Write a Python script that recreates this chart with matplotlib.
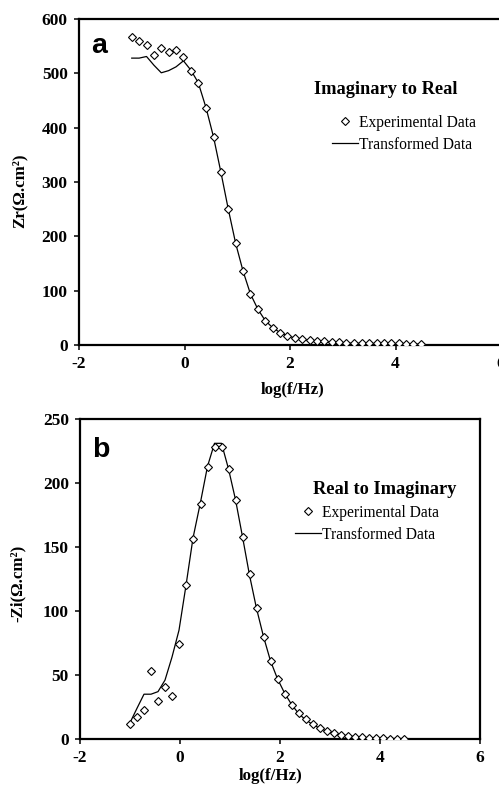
import matplotlib
matplotlib.use("Agg")
import matplotlib.pyplot as plt
from matplotlib.lines import Line2D

plt.rcParams['font.family'] = ['Liberation Serif', 'DejaVu Serif']
plt.rcParams['axes.unicode_minus'] = False

# log frequency grid (decades)
log_f = [-1.00, -0.86, -0.72, -0.58, -0.44, -0.30, -0.16, -0.02, 0.12, 0.26,
         0.41, 0.55, 0.69, 0.83, 0.97, 1.11, 1.25, 1.39, 1.53, 1.67,
         1.81, 1.95, 2.09, 2.23, 2.37, 2.51, 2.65, 2.79, 2.93, 3.07,
         3.22, 3.36, 3.50, 3.64, 3.78, 3.92, 4.06, 4.20, 4.34, 4.48]

# Panel a: real part
zr_exp = [567, 560, 552, 534, 546, 540, 543, 530, 505, 483,
          436, 383, 318, 250, 187, 136, 94, 66, 45, 32,
          23, 17, 13, 11, 9.8, 8, 6.5, 6, 5, 4.5,
          4, 4, 3.5, 3.5, 3, 3, 3, 2.5, 2.5, 2.5]
zr_trans = [528, 528, 531, 515, 501, 505, 512, 523, 506, 483,
            436, 383, 318, 250, 187, 136, 94, 66, 45, 32,
            23, 17, 13, 10, 8.5, 7, 5.5, 5, 4, 3.5,
            3, 3, 2.5, 2.5, 2, 2, 2, 1.5, 1.5, 1.5]

# Panel b: imaginary part
zi_exp = [11.7, 17.4, 22.7, 53, 29.7, 41, 33.6, 74, 120, 156,
          183.6, 212.5, 228, 228, 211, 187, 158, 129, 102, 80,
          61, 46.6, 35.4, 26.6, 20.3, 15.4, 11.5, 8.3, 6, 4.4,
          3.4, 2.4, 1.8, 1.3, 1, 0.5, 0.5, 0.3, 0.3, 0.3]
zi_trans = [12.7, 24, 35, 35, 37, 46, 64, 85, 120, 157,
            185, 213, 231, 231, 211, 187, 158, 128, 102, 80,
            61, 47, 36, 27, 20, 15, 11.5, 8.5, 6.2, 4.5,
            3.3, 2.4, 1.8, 1.3, 1, 0.7, 0.5, 0.4, 0.3, 0.3]

x_ticks = [-2, 0, 2, 4, 6]
ya_ticks = [0, 100, 200, 300, 400, 500, 600]
yb_ticks = [0, 50, 100, 150, 200, 250]

fig = plt.figure(figsize=(4.99, 7.85), dpi=100)
ax_a = fig.add_axes([79/499, 1-345/785, 422/499, 326/785])
ax_b = fig.add_axes([80/499, 1-739/785, 400/499, 320/785])

TICK_FS = 12.5
LAB_FS = 12.2
LEG_FS = 11.2
TITLE_FS = 13.2


def style(ax, yticks, ylim):
    ax.set_xlim(-2, 6)
    ax.set_ylim(*ylim)
    ax.set_xticks(x_ticks)
    ax.set_yticks(yticks)
    for s in ax.spines.values():
        s.set_linewidth(1.6)
    ax.tick_params(direction='out', length=3.6, width=1.1, pad=4.5,
                   labelsize=TICK_FS)
    for lab in ax.get_xticklabels() + ax.get_yticklabels():
        lab.set_fontweight('bold')


def panel(ax, y_exp, y_trans, yticks, ylim, ylabel, letter, title,
          ylab_xy, xlab_xy, title_xy, letter_xy, leg_xy):
    ax.plot(log_f, y_trans, color='black', lw=0.9, zorder=2)
    ax.plot(log_f, y_exp, linestyle='none', marker='D', ms=3.6,
            mfc='white', mec='black', mew=0.8, zorder=3)
    style(ax, yticks, ylim)
    ax.set_ylabel(ylabel, fontsize=LAB_FS, fontweight='bold')
    ax.yaxis.set_label_coords(*ylab_xy)
    ax.set_xlabel('log(f/Hz)', fontsize=LAB_FS, fontweight='bold')
    ax.xaxis.set_label_coords(*xlab_xy)
    ax.text(letter_xy[0], letter_xy[1], letter, transform=ax.transAxes,
            family='Liberation Sans', fontweight='bold', fontsize=20.5,
            ha='left', va='baseline')
    ax.text(title_xy[0], title_xy[1], title, transform=ax.transAxes,
            fontsize=TITLE_FS, fontweight='bold', ha='left', va='center')
    handles = [Line2D([], [], linestyle='none', marker='D', ms=3.6,
                      mfc='white', mec='black', mew=0.8),
               Line2D([], [], color='black', lw=0.9)]
    ax.legend(handles, ['Experimental Data', 'Transformed Data'],
              loc='upper left', bbox_to_anchor=leg_xy, frameon=False,
              borderpad=0, borderaxespad=0, fontsize=LEG_FS,
              handlelength=1.7, handletextpad=0.05, labelspacing=0.4)


panel(ax_a, zr_exp, zr_trans, ya_ticks, (0, 600), 'Zr(Ω.cm²)', 'a',
      'Imaginary to Real',
      ylab_xy=(-0.121, 0.472), xlab_xy=(0.505, -0.1135),
      title_xy=(0.557, 0.785), letter_xy=(0.0284, 0.8957),
      leg_xy=(0.5995, 0.7067))

panel(ax_b, zi_exp, zi_trans, yb_ticks, (0, 250), '-Zi(Ω.cm²)', 'b',
      'Real to Imaginary',
      ylab_xy=(-0.135, 0.486), xlab_xy=(0.476, -0.0906),
      title_xy=(0.5825, 0.780), letter_xy=(0.03, 0.881),
      leg_xy=(0.5375, 0.7325))

fig.savefig('out.png', dpi=100)
